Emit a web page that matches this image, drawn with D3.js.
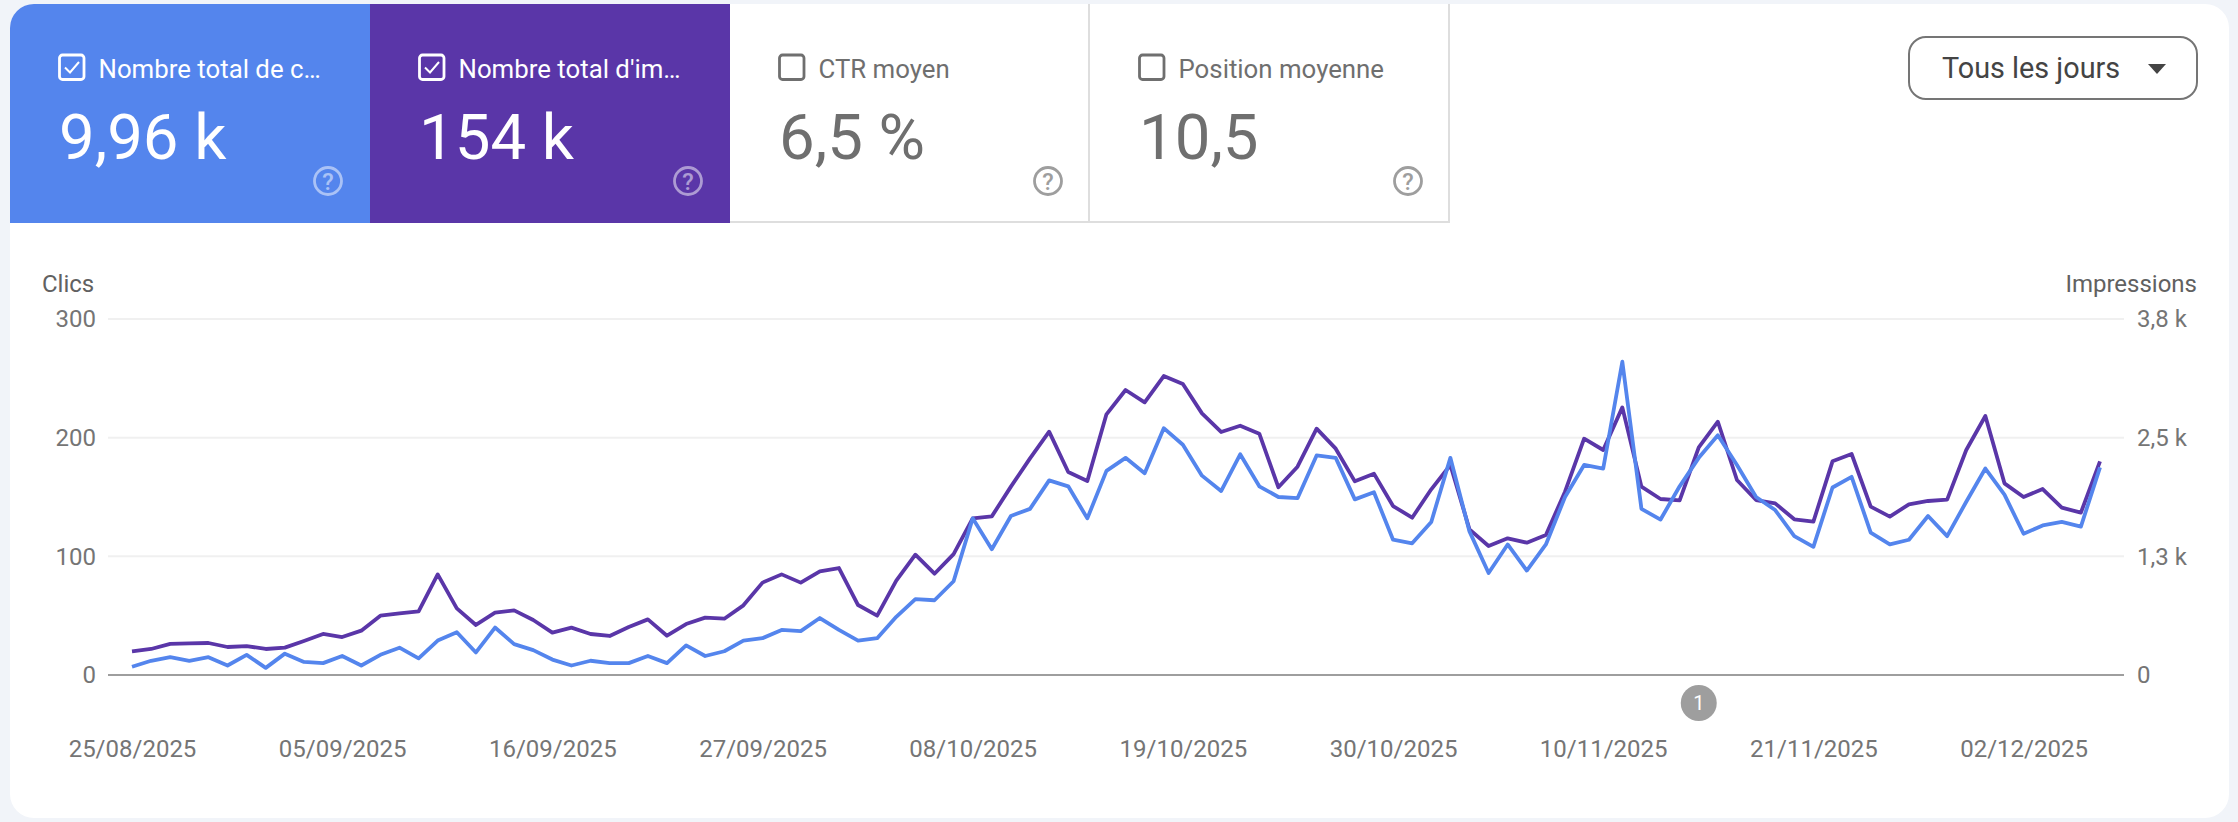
<!DOCTYPE html>
<html lang="fr">
<head>
<meta charset="UTF-8">
<script src="https://d3js.org/d3.v7.min.js"></script>
<title>Performances</title>
<style>
html, body { margin: 0; padding: 0; background: #f1f4f9; overflow: hidden; }
svg { display: block; }
text { font-family: Roboto, sans-serif; }
.tick text { font-size: 24px; fill: #757575; }
.axis .domain { display: none; }
</style>
</head>
<body>
<script>

var tabLabels = ["Nombre total de c…", "Nombre total d'im…", "CTR moyen", "Position moyenne"];
var tabValues = ["9,96 k", "154 k", "6,5 %", "10,5"];
var tabChecked = [true, true, false, false];
var tabColors = ["#5485ed", "#5a36a8", "#fff", "#fff"];

var clicks = [7, 12, 15, 12, 15, 8, 17, 6, 18, 11, 10, 16, 8, 17, 23, 14, 29, 36, 19, 40, 26, 21, 13, 8, 12, 10,
  10, 16, 10, 25, 16, 20, 29, 31, 38, 37, 48, 38, 29, 31, 49, 64, 63, 79, 132, 106, 134, 140, 164, 159, 132, 172,
  183, 170, 208, 194, 168, 155, 186, 159, 150, 149, 185, 183, 148, 154, 114, 111, 129, 183, 121, 86, 110, 88, 110,
  150, 177, 174, 264, 140, 131, 159, 183, 202, 177, 150, 139, 117, 108, 158, 167, 120, 110, 114, 134, 117, 146,
  174, 152, 119, 126, 129, 125, 175];

var impressions = [249, 274, 327, 334, 337, 295, 305, 274, 288, 358, 432, 400, 467, 625, 650, 671, 1060, 702, 527,
  657, 681, 579, 446, 499, 432, 411, 506, 586, 414, 537, 604, 593, 734, 973, 1060, 973, 1092, 1127, 737, 625, 994,
  1267, 1067, 1274, 1650, 1671, 1984, 2282, 2563, 2138, 2043, 2746, 3002, 2872, 3149, 3065, 2756, 2560, 2626, 2542,
  1977, 2194, 2595, 2384, 2040, 2121, 1780, 1657, 1956, 2212, 1534, 1359, 1440, 1394, 1475, 1931, 2489, 2370, 2819,
  1984, 1854, 1840, 2398, 2668, 2054, 1843, 1808, 1640, 1615, 2251, 2328, 1773, 1668, 1798, 1833, 1847, 2370, 2728,
  2019, 1875, 1959, 1763, 1710, 2251];

var xTickDays = [0, 11, 22, 33, 44, 55, 66, 77, 88, 99];
var xTickLabels = ["25/08/2025", "05/09/2025", "16/09/2025", "27/09/2025", "08/10/2025", "19/10/2025", "30/10/2025",
  "10/11/2025", "21/11/2025", "02/12/2025"];
var clickTicks = [0, 100, 200, 300];
var impressionTicks = [0, 1250, 2500, 3750];
var impressionTickLabels = ["0", "1,3 k", "2,5 k", "3,8 k"];
var annotationDay = 82;

var width = 2238,
    height = 822;

var svg = d3.select("body").append("svg")
    .attr("width", width)
    .attr("height", height);

svg.append("clipPath").attr("id", "card")
  .append("rect")
    .attr("x", 10).attr("y", 4)
    .attr("width", 2219).attr("height", 814)
    .attr("rx", 24);

var card = svg.append("g").attr("clip-path", "url(#card)");
card.append("rect")
    .attr("x", 10).attr("y", 4)
    .attr("width", 2219).attr("height", 814)
    .attr("fill", "#fff");

// metric tabs
var tabWidth = 360;
var tabs = card.selectAll(".tab")
    .data(tabLabels)
  .enter().append("g")
    .attr("class", "tab")
    .attr("transform", function(d, i) { return "translate(" + (10 + i * tabWidth) + ",4)"; });

tabs.append("rect")
    .attr("width", tabWidth)
    .attr("height", 219)
    .attr("fill", function(d, i) { return tabColors[i]; });

tabs.filter(function(d, i) { return !tabChecked[i]; }).append("path")
    .attr("d", "M0,218H" + tabWidth + "M" + (tabWidth - 1) + ",0V219")
    .attr("fill", "none")
    .attr("stroke", "#dedede")
    .attr("stroke-width", 2);

function inkColor(i) { return tabChecked[i] ? "#fff" : "#6f6f6f"; }

tabs.append("rect")
    .attr("x", 49.5).attr("y", 51)
    .attr("width", 24.5).attr("height", 24.5)
    .attr("rx", 3)
    .attr("fill", "none")
    .attr("stroke", function(d, i) { return inkColor(i); })
    .attr("stroke-width", 2.8);

tabs.filter(function(d, i) { return tabChecked[i]; }).append("path")
    .attr("d", "M55,63.5l5,5l9,-10.5")
    .attr("fill", "none")
    .attr("stroke", "#fff")
    .attr("stroke-width", 2);

tabs.append("text")
    .attr("x", 88.5).attr("y", 73.5)
    .attr("font-size", 25.8)
    .attr("fill", function(d, i) { return inkColor(i); })
    .text(function(d) { return d; });

tabs.append("text")
    .attr("x", 49).attr("y", 155)
    .attr("font-size", 63.5)
    .attr("fill", function(d, i) { return inkColor(i); })
    .text(function(d, i) { return tabValues[i]; });

var help = tabs.append("g")
    .attr("transform", "translate(318,177)")
    .attr("opacity", function(d, i) { return tabChecked[i] ? 0.5 : 1; });
help.append("circle")
    .attr("r", 13.5)
    .attr("fill", "none")
    .attr("stroke", function(d, i) { return tabChecked[i] ? "#fff" : "#9e9e9e"; })
    .attr("stroke-width", 2.8);
help.append("text")
    .attr("text-anchor", "middle")
    .attr("y", 8.5)
    .attr("font-size", 23.5)
    .attr("font-weight", 500)
    .attr("fill", function(d, i) { return tabChecked[i] ? "#fff" : "#9e9e9e"; })
    .text("?");

// dropdown
svg.append("rect")
    .attr("x", 1909).attr("y", 37)
    .attr("width", 288).attr("height", 62)
    .attr("rx", 17)
    .attr("fill", "#fff")
    .attr("stroke", "#757575")
    .attr("stroke-width", 2);
svg.append("text")
    .attr("x", 1942).attr("y", 78)
    .attr("font-size", 28.8)
    .attr("fill", "#444")
    .text("Tous les jours");
svg.append("path")
    .attr("d", "M2148,64h18l-9,10z")
    .attr("fill", "#444");

// chart
var x = d3.scaleLinear().domain([0, 103]).range([132, 2100]);
var yClicks = d3.scaleLinear().domain([0, 300]).range([675, 319]);
var yImpressions = d3.scaleLinear().domain([0, 3750]).range([675, 319]);

var grid = svg.append("g");
grid.selectAll("line")
    .data(clickTicks)
  .enter().append("line")
    .attr("x1", 108)
    .attr("x2", 2124)
    .attr("y1", function(d) { return yClicks(d); })
    .attr("y2", function(d) { return yClicks(d); })
    .attr("stroke", function(d) { return d == 0 ? "#9e9e9e" : "#f0f0f0"; })
    .attr("stroke-width", 2);

svg.append("g")
    .attr("class", "axis")
    .attr("transform", "translate(96,0)")
    .call(d3.axisLeft(yClicks).tickValues(clickTicks).tickSize(0).tickPadding(0));

svg.append("g")
    .attr("class", "axis")
    .attr("transform", "translate(2137,0)")
    .call(d3.axisRight(yImpressions).tickValues(impressionTicks).tickSize(0).tickPadding(0)
      .tickFormat(function(d, i) { return impressionTickLabels[i]; }));

svg.append("g")
    .attr("class", "axis")
    .attr("transform", "translate(0,740)")
    .call(d3.axisBottom(x).tickValues(xTickDays).tickSize(0).tickPadding(0)
      .tickFormat(function(d, i) { return xTickLabels[i]; }));

svg.append("text")
    .attr("x", 42).attr("y", 292)
    .attr("font-size", 24)
    .attr("fill", "#616161")
    .text("Clics");
svg.append("text")
    .attr("x", 2197).attr("y", 292)
    .attr("text-anchor", "end")
    .attr("font-size", 24)
    .attr("fill", "#616161")
    .text("Impressions");

var clickLine = d3.line()
    .x(function(d, i) { return x(i); })
    .y(function(d) { return yClicks(d); });
var impressionLine = d3.line()
    .x(function(d, i) { return x(i); })
    .y(function(d) { return yImpressions(d); });

svg.append("path")
    .attr("d", impressionLine(impressions))
    .attr("fill", "none")
    .attr("stroke", "#5a36a8")
    .attr("stroke-width", 3.8)
    .attr("stroke-linejoin", "round");
svg.append("path")
    .attr("d", clickLine(clicks))
    .attr("fill", "none")
    .attr("stroke", "#5485ed")
    .attr("stroke-width", 3.8)
    .attr("stroke-linejoin", "round");

// annotation marker
svg.append("circle")
    .attr("cx", x(annotationDay)).attr("cy", 703)
    .attr("r", 18)
    .attr("fill", "#9e9e9e");
svg.append("text")
    .attr("x", x(annotationDay)).attr("y", 710)
    .attr("text-anchor", "middle")
    .attr("font-size", 20)
    .attr("fill", "#fff")
    .text("1");

</script>
</body>
</html>
